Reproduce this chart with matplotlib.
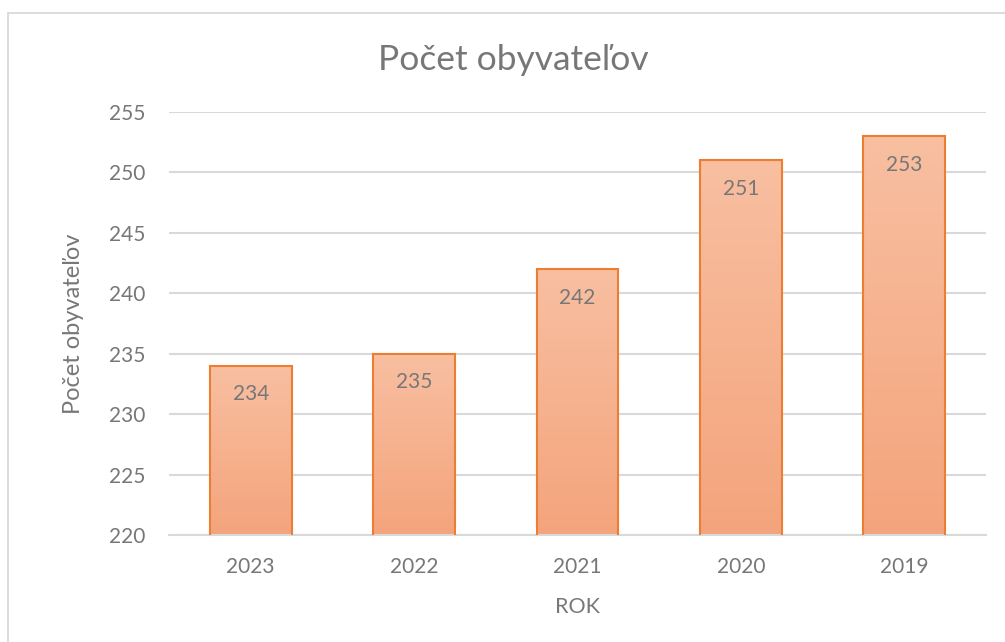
import matplotlib
matplotlib.use("Agg")
import matplotlib.pyplot as plt
import numpy as np
from matplotlib.patches import Rectangle
from matplotlib.colors import LinearSegmentedColormap

years = ["2023", "2022", "2021", "2020", "2019"]
values = [234, 235, 242, 251, 253]
title = "Počet obyvateľov"
ylabel = "Počet obyvateľov"
xlabel = "ROK"
yticks = [220, 225, 230, 235, 240, 245, 250, 255]

plt.rcParams['font.family'] = ['Lato', 'DejaVu Sans']
txt = '#777777'
grid = '#d9d9d9'

fig = plt.figure(figsize=(10.05, 6.42), dpi=100)
fig.patches.append(Rectangle((8/1005, -0.1), 1.2, (642-13)/642 + 0.1, transform=fig.transFigure,
                             fill=False, edgecolor='#d9d9d9', linewidth=1.3))
ax = fig.add_axes([169/1005, 107/642, (986-169)/1005, (535-112)/642])

cmap = LinearSegmentedColormap.from_list('g', ['#f4a47c', '#f8bfa1'])
grad = np.linspace(0, 1, 256).reshape(-1, 1)
x = np.arange(len(years))
width = 0.5
for xi, v in zip(x, values):
    ax.imshow(grad, extent=(xi - width/2, xi + width/2, 220, v), origin='lower',
              cmap=cmap, aspect='auto', zorder=2)
bars = ax.bar(x, values, width=width, bottom=0, facecolor='none', edgecolor='#ed7d31',
              linewidth=1.5, zorder=3)
ax.set_xlim(-0.5, len(years) - 0.5)
ax.set_ylim(220, 255)

for xi, v in zip(x, values):
    ax.annotate(str(v), xy=(xi, v), xytext=(0, -20.5), textcoords='offset points',
                ha='center', va='center', fontsize=15, color=txt, zorder=4)

ax.set_yticks(yticks)
ax.set_xticks(x)
ax.set_xticklabels(years)
ax.tick_params(axis='both', length=0, labelsize=15, colors=txt)
ax.tick_params(axis='y', pad=17)
ax.tick_params(axis='x', pad=16)
ax.grid(axis='y', color=grid, linewidth=1.5, zorder=0)
ax.set_axisbelow(True)
for s in ['top', 'right', 'left']:
    ax.spines[s].set_visible(False)
ax.spines['bottom'].set_color(grid)
ax.spines['bottom'].set_linewidth(1.5)

ax.set_xlabel(xlabel, fontsize=15.5, color=txt, labelpad=14)
ax.set_ylabel(ylabel, fontsize=17, color=txt, labelpad=18)
fig.text(513/1005, 1 - 60/642, title, ha='center', va='center', fontsize=25.5, color=txt)

fig.savefig('out.png', dpi=100)
